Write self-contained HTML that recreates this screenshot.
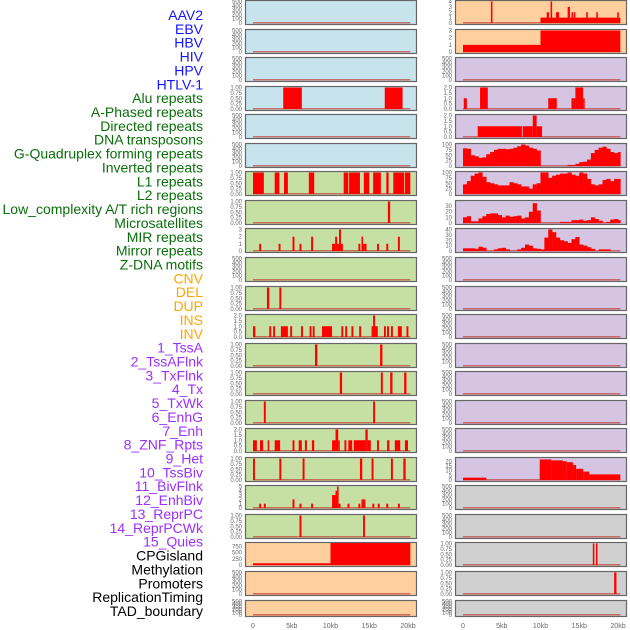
<!DOCTYPE html>
<html><head><meta charset="utf-8">
<style>
html,body{margin:0;padding:0;background:#fff;}
svg{display:block;font-family:"Liberation Sans",sans-serif;}
</style></head>
<body>
<svg id="chart" width="630" height="630" viewBox="0 0 630 630" xmlns="http://www.w3.org/2000/svg">
<g id="labels"></g>
<g id="panels"></g>
<g id="xaxes"></g>
</svg>
<script>
// ---- data ----
const trackNames = ["AAV2","EBV","HBV","HIV","HPV","HTLV-1","Alu repeats","A-Phased repeats","Directed repeats","DNA transposons","G-Quadruplex forming repeats","Inverted repeats","L1 repeats","L2 repeats","Low_complexity A/T rich regions","Microsatellites","MIR repeats","Mirror repeats","Z-DNA motifs","CNV","DEL","DUP","INS","INV","1_TssA","2_TssAFlnk","3_TxFlnk","4_Tx","5_TxWk","6_EnhG","7_Enh","8_ZNF_Rpts","9_Het","10_TssBiv","11_BivFlnk","12_EnhBiv","13_ReprPC","14_ReprPCWk","15_Quies","CPGisland","Methylation","Promoters","ReplicationTiming","TAD_boundary"];
const trackGroups = ["v","v","v","v","v","v","r","r","r","r","r","r","r","r","r","r","r","r","r","s","s","s","s","s","c","c","c","c","c","c","c","c","c","c","c","c","c","c","c","o","o","o","o","o"];
const xTickLabels = ["0","5kb","10kb","15kb","20kb"];
const xTickValues = [0,5,10,15,20];

const ticksEmpty = ["0","100","200","300","400","500"];
const ticks1 = ["0.00","0.25","0.50","0.75","1.00"];
const ticks2 = ["0.0","0.5","1.0","1.5","2.0"];
const ticks3 = ["0","1","2","3"];
const ticks4 = ["0","1","2","3","4"];
const ticks5 = ["0","1","2","3","4","5"];
const ticks100 = ["0","25","50","75","100"];
const ticks30 = ["0","10","20","30"];
const ticks40 = ["0","10","20","30","40"];
const ticks20 = ["0","5","10","15","20"];
const ticks750 = ["0","250","500","750"];

const segL4 = [[3.9,6.3,1],[17,19.3,1]];
const segL7 = [[0,1.4,1],[2.8,3.4,1],[4,4.5,1],[7.2,7.9,1],[11.7,12.3,1],[12.4,13.8,1],[14.3,15,1],[15.5,16.5,1],[17.2,17.5,1],[18.1,19.5,1],[19.6,20.3,1]];
const segL8 = [[17.4,17.7,1]];
const segL9 = [[0.8,1.05,1],[3.3,3.55,1],[5.1,5.35,2],[6,6.25,1],[7.5,7.75,2],[10.2,10.6,1],[10.6,10.85,2],[10.85,11.1,1],[11.1,11.35,3],[11.35,11.6,1],[13.6,13.85,1],[14,14.2,2],[14.2,14.4,1],[14.4,14.65,1],[16,16.25,1],[17.2,17.45,1],[18.7,18.95,2]];
const segL11 = [[1.8,2.1,1],[3.4,3.65,1]];
const segL12 = [[0,0.3,1],[2.1,2.35,1],[2.6,2.85,1],[3.6,4.5,1],[4.8,5.05,1],[6.2,6.45,1],[7.3,7.55,1],[7.7,7.95,1],[8.9,10.2,1],[11.4,11.65,1],[11.9,12.15,1],[12.7,12.95,1],[13.7,13.95,1],[15.3,15.5,1],[15.5,15.75,2],[15.75,16.1,1],[16.9,17.15,1],[17.3,17.55,1],[17.8,18.05,1],[18.7,19.2,1],[19.8,20.05,1]];
const segL13 = [[8,8.3,1],[16.4,16.7,1]];
const segL14 = [[11.2,11.5,1],[16.5,16.75,1],[17.7,18,1],[19.5,19.8,1]];
const segL15 = [[1.4,1.65,1],[15.5,15.75,1]];
const segL16 = [[0,0.5,1],[0.9,1.3,1],[1.9,2.1,1],[2.8,3.5,1],[5.1,5.35,1],[5.9,6.3,1],[6.7,6.95,1],[7.6,7.9,1],[10.2,10.65,1],[10.65,11,2],[11,11.2,1],[11.8,12.05,1],[12.3,12.8,1],[13,14.5,1],[14.5,14.8,2],[14.8,15.2,1],[16,16.25,1],[17.3,17.6,1],[18.3,19,1],[19.6,20,1]];
const segL17 = [[0,0.25,1],[3.4,3.65,1],[6.4,6.65,1],[13.8,14.1,1],[15.3,15.55,1],[17.8,18.05,1],[19.4,19.7,1]];
const segL18 = [[0.8,1.05,1],[1.4,1.65,1],[5.1,5.35,2],[6,6.25,1],[7.5,7.75,1],[10.2,10.65,3],[10.65,10.85,4],[10.85,11.05,5],[11.05,11.3,1],[12.2,12.45,1],[13.6,13.85,1],[14,14.25,2],[14.25,14.5,2],[15.4,15.65,1],[16.1,16.35,1],[17.2,17.45,1],[18.7,18.95,1]];
const segL19 = [[6,6.25,1],[14.2,14.45,1]];
const segL20 = [[0,10,70],[10,20.3,900]];

const segR1 = [[3.6,3.8,4],[10,20.3,1],[10.8,11.1,2],[11.3,11.5,4],[12,12.4,2],[13.5,13.8,3],[14,14.2,2],[14.3,14.5,2],[15.9,16.1,2],[17.2,17.4,2],[19.9,20.1,2]];
const segR2 = [[0,10,1],[10,20.3,3]];
const segR4 = [[0.1,0.5,1],[2.2,3.2,2],[11,12.1,1],[14,14.5,1],[14.5,15.5,2],[15.5,15.7,1]];
const segR5 = [[1.9,7.6,1],[7.7,9,1],[9,9.5,2],[9.5,10.2,1]];
const binsR6 = [82,80,50,45,38,40,55,65,75,80,80,78,80,85,92,100,95,85,80,72,0,0,0,0,0,0,0,5,5,10,18,20,30,60,75,85,90,80,65,60,65];
const binsR7 = [45,60,85,95,100,80,55,50,45,40,40,40,55,50,45,35,35,25,45,50,100,100,75,85,90,95,95,100,90,85,100,95,70,45,40,45,65,70,60,70,70];
const binsR8 = [10,12,3,3,8,12,16,17,17,14,10,13,11,12,13,8,10,20,35,22,0,0,0,0,0,2,2,2,5,5,6,4,5,10,7,4,0,2,6,7,5];
const binsR9 = [5,5,5,4,8,6,0,0,3,5,6,3,0,0,3,6,12,10,5,4,3,25,40,35,25,20,18,15,22,26,12,10,7,4,0,3,3,3,0,0,0];
const segR17 = [[0,3,2.5],[9.9,11.4,22],[11.4,12.9,21],[12.9,13.4,20],[13.4,14.2,19],[14.2,14.6,16],[14.6,15.5,12],[15.5,16.3,9],[16.3,20.3,6]];
const segR20 = [[16.75,16.95,1],[17.15,17.35,1]];
const segR21 = [[19.5,19.8,1]];

// ---- layout ----
const C = {v:"#1414ff", r:"#0a6e0a", s:"#ffa500", c:"#9b30ff", o:"#000000"};
const BG = {b:"#c7e4ec", g:"#c6e0a3", o:"#ffd09e", p:"#d5c5e2", y:"#d0d0d0"};
const colX = [245,455];
const panelW = 172;
function rowTop(i){return Math.round(i*28.55);}
function rowH(i){return i===21?17:25;}
function xs(col,kb){return colX[col]+8+kb*7.75;}

const panels = [
 // left column
 {col:0,row:0,bg:"b",t:ticksEmpty,max:500},
 {col:0,row:1,bg:"b",t:ticksEmpty,max:500},
 {col:0,row:2,bg:"b",t:ticksEmpty,max:500},
 {col:0,row:3,bg:"b",t:ticks1,max:1,seg:segL4},
 {col:0,row:4,bg:"b",t:ticksEmpty,max:500},
 {col:0,row:5,bg:"b",t:ticksEmpty,max:500},
 {col:0,row:6,bg:"g",t:ticks1,max:1,seg:segL7},
 {col:0,row:7,bg:"g",t:ticks1,max:1,seg:segL8},
 {col:0,row:8,bg:"g",t:ticks3,max:3,seg:segL9},
 {col:0,row:9,bg:"g",t:ticksEmpty,max:500},
 {col:0,row:10,bg:"g",t:ticks1,max:1,seg:segL11},
 {col:0,row:11,bg:"g",t:ticks2,max:2,seg:segL12},
 {col:0,row:12,bg:"g",t:ticks1,max:1,seg:segL13},
 {col:0,row:13,bg:"g",t:ticks1,max:1,seg:segL14},
 {col:0,row:14,bg:"g",t:ticks1,max:1,seg:segL15},
 {col:0,row:15,bg:"g",t:ticks2,max:2,seg:segL16},
 {col:0,row:16,bg:"g",t:ticks1,max:1,seg:segL17},
 {col:0,row:17,bg:"g",t:ticks5,max:5,seg:segL18},
 {col:0,row:18,bg:"g",t:ticks1,max:1,seg:segL19},
 {col:0,row:19,bg:"o",t:ticks750,max:860,tmax:750,seg:segL20},
 {col:0,row:20,bg:"o",t:ticksEmpty,max:500},
 {col:0,row:21,bg:"o",t:ticksEmpty,max:500},
 // right column
 {col:1,row:0,bg:"o",t:ticks4,max:4,seg:segR1},
 {col:1,row:1,bg:"o",t:ticks3,max:3,seg:segR2},
 {col:1,row:2,bg:"p",t:ticksEmpty,max:500},
 {col:1,row:3,bg:"p",t:ticks2,max:2,seg:segR4},
 {col:1,row:4,bg:"p",t:ticks2,max:2,seg:segR5},
 {col:1,row:5,bg:"p",t:ticks100,max:100,bins:binsR6},
 {col:1,row:6,bg:"p",t:ticks100,max:100,bins:binsR7},
 {col:1,row:7,bg:"p",t:ticks30,max:38,tmax:30,bins:binsR8},
 {col:1,row:8,bg:"p",t:ticks40,max:40,bins:binsR9},
 {col:1,row:9,bg:"p",t:ticksEmpty,max:500},
 {col:1,row:10,bg:"p",t:ticksEmpty,max:500},
 {col:1,row:11,bg:"p",t:ticksEmpty,max:500},
 {col:1,row:12,bg:"p",t:ticksEmpty,max:500},
 {col:1,row:13,bg:"p",t:ticksEmpty,max:500},
 {col:1,row:14,bg:"p",t:ticksEmpty,max:500},
 {col:1,row:15,bg:"p",t:ticksEmpty,max:500},
 {col:1,row:16,bg:"p",t:ticks20,max:23,tmax:20,seg:segR17},
 {col:1,row:17,bg:"y",t:ticksEmpty,max:500},
 {col:1,row:18,bg:"y",t:ticksEmpty,max:500},
 {col:1,row:19,bg:"y",t:ticks1,max:1,seg:segR20},
 {col:1,row:20,bg:"y",t:ticks1,max:1,seg:segR21},
 {col:1,row:21,bg:"y",t:ticksEmpty,max:500}
];

const NS="http://www.w3.org/2000/svg";
function mk(tag,attrs,parent){const e=document.createElementNS(NS,tag);for(const k in attrs)e.setAttribute(k,attrs[k]);parent.appendChild(e);return e;}

// labels
const gl=document.getElementById("labels");
trackNames.forEach((n,i)=>{
  const t=mk("text",{x:203,y:20+i*13.86,"text-anchor":"end","font-size":"14",fill:C[trackGroups[i]]},gl);
  
  
  t.textContent=n;
});

// panels
const gp=document.getElementById("panels");
panels.forEach(p=>{
  const top=rowTop(p.row), h=rowH(p.row), x0=colX[p.col];
  const g=mk("g",{},gp);
  
  
  mk("rect",{x:x0,y:top+0.5,width:panelW,height:h-1,fill:BG[p.bg]},g);
  const yb=top+h-2, yt=top+1.5;
  const ys=v=>yb-(v/p.max)*(yb-yt);
  // baseline
  const bl=mk("rect",{x:xs(p.col,0),y:yb-1,width:xs(p.col,20.3)-xs(p.col,0),height:1.5,fill:"#c0403a",opacity:"0.7"},g);
  
  
  if(p.seg){p.seg.forEach(s=>{
    const r=mk("rect",{x:xs(p.col,s[0]),y:ys(s[2]),width:Math.max(1.2,xs(p.col,s[1])-xs(p.col,s[0])),height:yb-ys(s[2]),fill:"#ff0000"},g);
    
    
  });}
  if(p.bins){p.bins.forEach((v,i)=>{
    if(v<=0)return;
    const e=Math.min(20.3,(i+1)*0.5);
    const r=mk("rect",{x:xs(p.col,i*0.5),y:ys(v),width:xs(p.col,e)-xs(p.col,i*0.5)+0.3,height:yb-ys(v),fill:"#ff0000"},g);
    
    
  });}
  mk("rect",{x:x0+0.5,y:top+0.5,width:panelW-1,height:h-1,fill:"none",stroke:"#666",
    "stroke-width":"1.2"},g);
  // y ticks
  const n=p.t.length, tmax=p.tmax||p.max;
  p.t.forEach((lab,i)=>{
    const v=tmax*i/(n-1);
    const t=mk("text",{x:x0-3,y:ys(v)+2,"text-anchor":"end","font-size":"6",fill:"#666"},g);
    
    
    t.textContent=lab;
  });
});

// x axes
const gx=document.getElementById("xaxes");
[0,1].forEach(col=>{
  xTickLabels.forEach((lab,i)=>{
    const t=mk("text",{x:xs(col,xTickValues[i]),y:628,"text-anchor":"middle","font-size":"7",fill:"#666"},gx);
    
    
    t.textContent=lab;
  });
});
</script>
</body></html>
